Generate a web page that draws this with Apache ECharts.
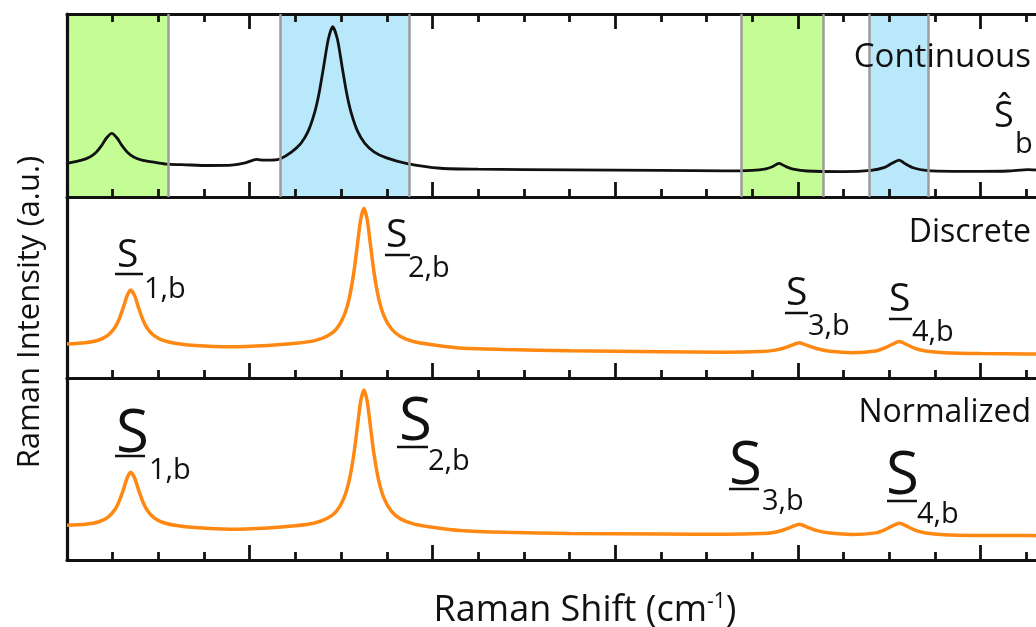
<!DOCTYPE html>
<html><head><meta charset="utf-8">
<script src="https://cdn.jsdelivr.net/npm/echarts@6/dist/echarts.min.js"></script>
<style>html,body{margin:0;padding:0;background:#fff;overflow:hidden;width:1036px;height:627px}#c{width:1090px;height:627px}</style>
</head><body><div id="c"></div>
<script>
// ---------- data ----------
const xContinuous = [0,15,25,32,38,43,49,55,60,66,73,83,98,110,130,155,180,195,207.6,215,225,233,246,256,264,271,276,281,286,290.8,296,301,306,311,318,326,336,349,371,409,450,550,650,720,750,765,772,779.3,787,795,810,850,880,895,903,910.7,918,926,940,970,1000,1030,1052,1075,1100];
const yContinuous = [18.4,20.0,21.9,24.5,28.2,32.1,34.8,32.1,28.2,24.5,21.9,20.0,18.8,18.0,17.6,17.2,17.4,18.6,20.6,20.1,20.2,20.8,24.7,29.3,36.0,46.1,57.0,71.5,86.2,93.1,86.2,71.5,57.0,46.1,36.0,29.3,24.7,21.5,18.4,15.7,15.2,14.8,14.5,14.3,14.6,15.4,16.5,18.4,16.6,15.2,14.2,13.9,14.6,16.2,18.4,20.2,18.0,16.0,14.5,14.0,14.0,14.2,15.0,14.4,14.2];
const xDiscrete = [0,20,35,45,52,57,62,66,69.7,74,78,83,88,95,105,120,140,178,220,250,270,285,295,303,309,314,318,321.5,325,328.5,332,336,341,347,355,365,380,400,430,480,550,650,720,760,775,785,793,801.6,810,820,835,860,885,895,903,911,919,928,940,960,1000,1050,1100];
const yDiscrete = [18.8,19.5,21.0,23.7,27.6,32.4,39.5,45.7,48.6,45.5,39.3,32.2,27.4,23.5,20.8,19.1,18.0,17.3,18.0,19.2,20.5,23.2,27.2,34.2,44.3,58.5,74.2,87.7,93.8,87.7,74.2,58.5,44.3,34.2,27.2,22.9,20.0,18.4,16.6,15.8,15.0,14.5,14.2,14.6,15.4,16.6,18.1,19.5,18.0,16.3,14.8,14.0,14.9,16.6,18.5,20.1,18.5,16.4,14.9,14.0,13.5,13.3,13.2];
const yNormalized = [19.1,19.6,21.0,23.6,27.4,32.1,39.1,45.3,48.2,45.1,39.0,32.0,27.2,23.3,20.6,18.9,17.8,16.9,17.6,18.8,20.2,22.9,26.9,33.9,44.0,58.2,73.9,87.4,93.4,87.4,73.9,58.2,44.0,33.9,26.9,22.6,19.7,18.0,16.2,15.2,14.6,14.3,14.1,14.5,15.3,16.6,18.2,19.6,18.1,16.3,14.8,14.0,14.9,16.6,18.6,20.2,18.6,16.4,14.8,13.9,13.5,13.4,13.3];
const bandStart = [0, 233, 737.7, 878.4];
const bandEnd = [110.9, 374.7, 828, 942.4];
const bandKind = ['green', 'blue', 'green', 'blue'];
const panelTitles = ['Continuous', 'Discrete', 'Normalized'];
const peakSubscripts = ['1,b', '2,b', '3,b', '4,b'];
const hatLabel = 'Ŝ';
const hatSub = 'b';
const xTitleParts = ['Raman Shift (cm', '-1', ')'];
const yTitle = 'Raman Intensity (a.u.)';
const X_MIN = 0, X_MAX = 1100, X_MAJOR = 200;

// ---------- style / layout ----------
const FONT = '"Open Sans", "Noto Sans", "DejaVu Sans", sans-serif';
const INK = '#111';
const ORANGE = '#ff8812';
const BAND_BASE = {green: 'rgb(194,254,138)', blue: 'rgb(192,241,255)'};
const BAND_OVER = {green: 'rgba(200,251,171,0.35)', blue: 'rgba(171,214,243,0.35)'};
const EDGE = '#9c9c9c';
const SMOOTH = 0.25;
const zip = (xs, ys) => xs.map((x, i) => [x, ys[i]]);

const grids = [
  {left: 67, width: 1005, top: 14, height: 183},
  {left: 67, width: 1005, top: 197, height: 181},
  {left: 67, width: 1005, top: 378, height: 182}
];
function xAx(grid, pos, ticks) {
  return {type: 'value', gridIndex: grid, position: pos, min: X_MIN, max: X_MAX, interval: X_MAJOR, z: 2,
    axisLine: {show: true, onZero: false, lineStyle: {color: INK, width: 3.2}},
    axisTick: {show: ticks, inside: true, length: 15, lineStyle: {color: INK, width: 2.8}},
    minorTick: {show: ticks, splitNumber: 4, length: 8, lineStyle: {color: INK, width: 2.8}},
    axisLabel: {show: false}, splitLine: {show: false}, minorSplitLine: {show: false}};
}
function yAx(grid) {
  return {type: 'value', gridIndex: grid, min: 0, max: 100, z: 2,
    axisLine: {show: true, onZero: false, lineStyle: {color: INK, width: 3.2}},
    axisTick: {show: false}, axisLabel: {show: false}, splitLine: {show: false}};
}
const xAxes = [xAx(0, 'bottom', true), xAx(0, 'top', true), xAx(1, 'bottom', true), xAx(2, 'bottom', true)];
const yAxes = [yAx(0), yAx(1), yAx(2)];

const bands = bandStart.map((s, i) => ({s, e: bandEnd[i], k: bandKind[i]}));
const edges = [];
bands.forEach(b => { if (b.s > X_MIN) edges.push(b.s); edges.push(b.e); });

const series = [
  {type: 'line', xAxisIndex: 0, yAxisIndex: 0, data: zip(xContinuous, yContinuous), symbol: 'none',
   lineStyle: {opacity: 0}, z: 1, silent: true,
   markArea: {silent: true, data: bands.map(b => [{xAxis: b.s, yAxis: 0, itemStyle: {color: BAND_BASE[b.k]}}, {xAxis: b.e, yAxis: 100}])}},
  {type: 'line', xAxisIndex: 0, yAxisIndex: 0, data: zip(xContinuous, yContinuous), symbol: 'none', smooth: SMOOTH,
   lineStyle: {color: INK, width: 2.8}, z: 3, silent: true},
  {type: 'line', xAxisIndex: 0, yAxisIndex: 0, data: zip(xContinuous, yContinuous), symbol: 'none',
   lineStyle: {opacity: 0}, z: 5, silent: true,
   markArea: {silent: true, data: bands.map(b => [{xAxis: b.s, yAxis: 0.9, itemStyle: {color: BAND_OVER[b.k]}}, {xAxis: b.e, yAxis: 99.1}])},
   markLine: {silent: true, symbol: 'none', label: {show: false},
     lineStyle: {color: EDGE, width: 2.5, type: 'solid'}, data: edges.map(x => ({xAxis: x}))}},
  {type: 'line', xAxisIndex: 2, yAxisIndex: 1, data: zip(xDiscrete, yDiscrete), symbol: 'none', smooth: SMOOTH,
   lineStyle: {color: ORANGE, width: 3.5}, z: 3, silent: true},
  {type: 'line', xAxisIndex: 3, yAxisIndex: 2, data: zip(xDiscrete, yNormalized), symbol: 'none', smooth: SMOOTH,
   lineStyle: {color: ORANGE, width: 3.5}, z: 3, silent: true}
];

// text helpers (baseline-based placement)
function T(text, x, base, size, align, extra) {
  return Object.assign({type: 'text', x, y: base - 0.285 * size, z: 10, silent: true,
    style: {text, fontFamily: FONT, fontSize: size, fill: INK, textAlign: align || 'left', textVerticalAlign: 'middle'}}, extra || {});
}
function U(x1, x2, y) {
  return {type: 'rect', z: 10, silent: true, shape: {x: x1, y: y - 1.25, width: x2 - x1, height: 2.5}, style: {fill: INK}};
}
const mctx = document.createElement('canvas').getContext('2d');
function textW(t, size) { mctx.font = size + 'px ' + FONT; return mctx.measureText(t).width; }

const midLayout = [
  {sx: 117, sb: 267, u: [115, 143, 274], bx: 144, bb: 298},
  {sx: 386, sb: 247, u: [385, 410, 255], bx: 408, bb: 277},
  {sx: 786, sb: 305, u: [785, 808, 313], bx: 808, bb: 335},
  {sx: 889, sb: 311, u: [889, 912, 319], bx: 912, bb: 341}
];
const botLayout = [
  {sx: 116, sb: 452, u: [115, 145, 456], bx: 149, bb: 479},
  {sx: 399, sb: 440, u: [397, 428, 447], bx: 428, bb: 470},
  {sx: 729, sb: 484, u: [729, 759, 489], bx: 762, bb: 510},
  {sx: 886, sb: 494, u: [887, 917, 501], bx: 917, bb: 523}
];
const graphic = [];
graphic.push(T(panelTitles[0], 1031, 66.7, 33, 'right'));
graphic.push(T(panelTitles[1], 1031, 241.7, 32, 'right'));
graphic.push(T(panelTitles[2], 1031, 421.7, 32, 'right'));
graphic.push(T(hatLabel, 994, 127, 36, 'left'));
graphic.push(T(hatSub, 1015, 153.3, 29, 'left'));
midLayout.forEach((L, i) => {
  graphic.push(T('S', L.sx, L.sb, 39, 'left'));
  graphic.push(U(L.u[0], L.u[1], L.u[2]));
  graphic.push(T(peakSubscripts[i], L.bx, L.bb, 29, 'left'));
});
botLayout.forEach((L, i) => {
  graphic.push(T('S', L.sx, L.sb, 60, 'left'));
  graphic.push(U(L.u[0], L.u[1], L.u[2]));
  graphic.push(T(peakSubscripts[i], L.bx, L.bb, 29, 'left'));
});
// x title with small superscript
const XT_SIZE = 36, XT_SUP = 21, XT_CENTER = 585, XT_BASE = 621;
const w0 = textW(xTitleParts[0], XT_SIZE), w1 = textW(xTitleParts[1], XT_SUP), w2 = textW(xTitleParts[2], XT_SIZE);
const x0 = XT_CENTER - (w0 + w1 + w2) / 2;
graphic.push(T(xTitleParts[0], x0, XT_BASE, XT_SIZE, 'left'));
graphic.push(T(xTitleParts[1], x0 + w0, XT_BASE - 13, XT_SUP, 'left'));
graphic.push(T(xTitleParts[2], x0 + w0 + w1, XT_BASE, XT_SIZE, 'left'));
graphic.push({type: 'text', x: 30, y: 312, rotation: Math.PI / 2, z: 10, silent: true,
  style: {text: yTitle, fontFamily: FONT, fontSize: 31, fill: INK, textAlign: 'center', textVerticalAlign: 'middle'}});

const chart = echarts.init(document.getElementById('c'), null, {renderer: 'canvas'});
chart.setOption({
  animation: false,
  backgroundColor: '#fff',
  grid: grids,
  xAxis: xAxes,
  yAxis: yAxes,
  series: series,
  graphic: graphic
});
</script></body></html>
